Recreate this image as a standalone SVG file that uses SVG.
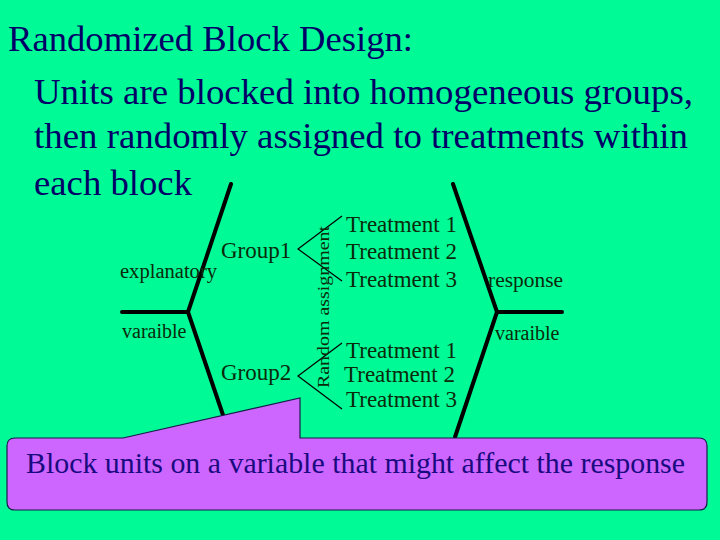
<svg xmlns="http://www.w3.org/2000/svg" width="720" height="540" viewBox="0 0 720 540">
<style>
.title{font-family:"Liberation Serif",serif;fill:#000066;font-size:36px}
.lbl{font-family:"Liberation Serif",serif;fill:#0a2a0a}
.thick{stroke:#000;stroke-width:4;fill:none;stroke-linecap:round;stroke-linejoin:miter}
.thin{stroke:#000;stroke-width:1.2;fill:none}
</style>
<rect width="720" height="540" fill="#00FA96"/>
<g id="title">
<text class="title" x="8" y="51" textLength="405" lengthAdjust="spacingAndGlyphs">Randomized Block Design:</text>
<text class="title" x="34" y="104" textLength="659" lengthAdjust="spacingAndGlyphs">Units are blocked into homogeneous groups,</text>
<text class="title" x="34" y="148" textLength="654" lengthAdjust="spacingAndGlyphs">then randomly assigned to treatments within</text>
<text class="title" x="34" y="195" textLength="158" lengthAdjust="spacingAndGlyphs">each block</text>
</g>
<g id="connectors">
<polyline class="thick" points="231,184 188,312 122,312"/>
<line class="thick" x1="188" y1="312" x2="223" y2="415"/>
<polyline class="thick" points="453,184 497,312 562,312"/>
<line class="thick" x1="497" y1="312" x2="455" y2="437"/>
<polyline class="thin" points="342,216 298,249 342,281"/>
<polyline class="thin" points="342,343 298,376 342,409"/>
</g>
<g id="explanatory">
<text class="lbl" x="120" y="278" font-size="20" textLength="97" lengthAdjust="spacingAndGlyphs">explanatory</text>
<text class="lbl" x="122" y="338" font-size="20">varaible</text>
</g>
<g id="group1"><text class="lbl" x="221" y="258" font-size="23">Group1</text></g>
<g id="group2"><text class="lbl" x="221" y="380" font-size="23">Group2</text></g>
<g id="random"><text class="lbl" font-size="17" transform="translate(329,388) rotate(-90)" textLength="162" lengthAdjust="spacingAndGlyphs">Random assignment</text></g>
<g id="treatments1">
<text class="lbl" x="346" y="232" font-size="23">Treatment 1</text>
<text class="lbl" x="346" y="259" font-size="23">Treatment 2</text>
<text class="lbl" x="346" y="287" font-size="23">Treatment 3</text>
</g>
<g id="treatments2">
<text class="lbl" x="346" y="358" font-size="23">Treatment 1</text>
<text class="lbl" x="344" y="382" font-size="23">Treatment 2</text>
<text class="lbl" x="346" y="407" font-size="23">Treatment 3</text>
</g>
<g id="response">
<text class="lbl" x="488" y="287" font-size="20" textLength="75" lengthAdjust="spacingAndGlyphs">response</text>
<text class="lbl" x="495" y="340" font-size="20">varaible</text>
</g>
<g id="callout">
<path d="M15,438 L123,438 L300,398 L300,438 L699,438 Q707,438 707,446 L707,502 Q707,510 699,510 L15,510 Q7,510 7,502 L7,446 Q7,438 15,438 Z" fill="#CC66FF" stroke="#1a1a4a" stroke-width="1.2"/>
<text x="26" y="473" font-family="Liberation Serif,serif" font-size="30" fill="#1a0a80" textLength="659" lengthAdjust="spacingAndGlyphs">Block units on a variable that might affect the response</text>
</g>
</svg>
